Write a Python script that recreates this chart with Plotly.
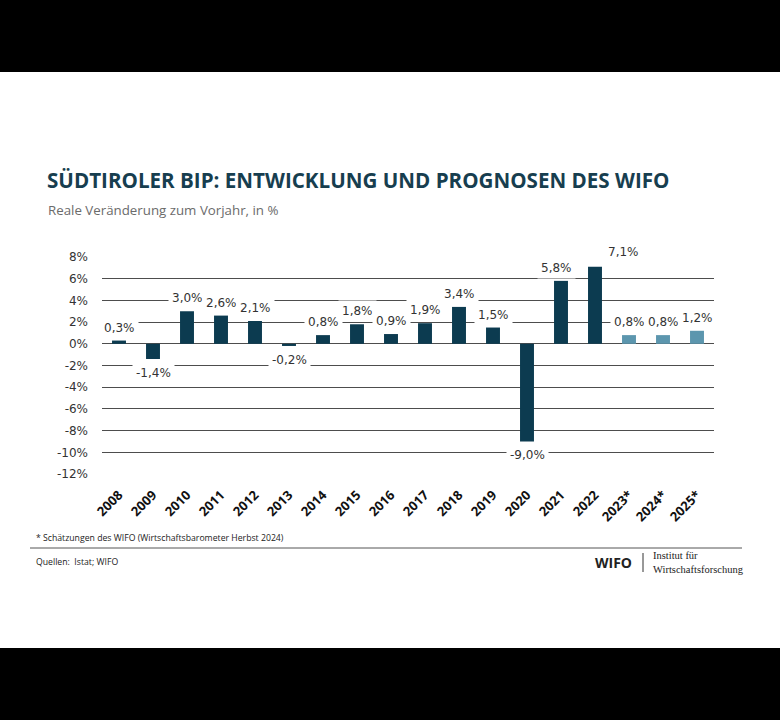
import plotly.graph_objects as go

years = ["2008", "2009", "2010", "2011", "2012", "2013", "2014", "2015", "2016",
         "2017", "2018", "2019", "2020", "2021", "2022", "2023*", "2024*", "2025*"]
growth = [0.3, -1.4, 3.0, 2.6, 2.1, -0.2, 0.8, 1.8, 0.9,
          1.9, 3.4, 1.5, -9.0, 5.8, 7.1, 0.8, 0.8, 1.2]
is_forecast = [False] * 15 + [True] * 3
y_ticks = [8, 6, 4, 2, 0, -2, -4, -6, -8, -10, -12]

DARK = "#0c3b50"
LIGHT = "#5c96ae"

W, H = 780, 720
L, R, T, B = 102, 714, 257, 474
PW, PH = R - L, B - T


def px_x(x):
    return (x - L) / PW


def px_y(y):
    return (B - y) / PH


fig = go.Figure()
fig.add_trace(go.Bar(
    x=years, y=growth,
    marker=dict(color=[LIGHT if f else DARK for f in is_forecast], line=dict(width=0)),
    hoverinfo="skip",
))

# value labels with white background
for i, (yr, v) in enumerate(zip(years, growth)):
    txt = f"{v:.1f}%".replace(".", ",")
    xshift = 0
    yshift = 13 if v >= 0 else -14
    if yr == "2022":
        xshift = 28
        yshift = 15
    if yr == "2021":
        xshift = -5
    fig.add_annotation(
        x=i, y=v, text=txt, showarrow=False, xshift=xshift, yshift=yshift,
        font=dict(family="DejaVu Sans", size=12, color="#333333"),
        bgcolor="white", borderpad=3,
    )

fig.update_layout(
    width=W, height=H,
    margin=dict(l=L, r=W - R, t=T, b=H - B, pad=0),
    paper_bgcolor="white", plot_bgcolor="white",
    showlegend=False, bargap=0.59,
    xaxis=dict(
        type="category", categoryorder="array", categoryarray=years,
        range=[-0.5, len(years) - 0.5], autorange=False,
        tickangle=-45, showgrid=False, showline=False, ticks="",
        ticklabelstandoff=10,
        tickfont=dict(family="Open Sans", size=13, color="#111111", weight="bold"),
    ),
    yaxis=dict(
        range=[-12, 8], autorange=False, tickvals=y_ticks,
        ticktext=[f"{t}%" for t in y_ticks],
        showgrid=True, gridcolor="#4d4d4d", gridwidth=1,
        zeroline=True, zerolinecolor="#4d4d4d", zerolinewidth=1,
        showline=False, ticks="", ticklabelstandoff=13,
        tickfont=dict(family="DejaVu Sans", size=12, color="#333333"),
    ),
)

# Title and subtitle
fig.add_annotation(
    xref="paper", yref="paper", x=px_x(45), y=px_y(180), xanchor="left", yanchor="middle",
    text="SÜDTIROLER BIP: ENTWICKLUNG UND PROGNOSEN DES WIFO", showarrow=False,
    font=dict(family="Open Sans", size=20.6, color="#173e4f", weight="bold"),
)
fig.add_annotation(
    xref="paper", yref="paper", x=px_x(46), y=px_y(210), xanchor="left", yanchor="middle",
    text="Reale Veränderung zum Vorjahr, in %", showarrow=False,
    font=dict(family="Open Sans", size=13.3, color="#6b6b6b"),
)

# Footer
fig.add_annotation(
    xref="paper", yref="paper", x=px_x(34), y=px_y(538), xanchor="left", yanchor="middle",
    text="* Schätzungen des WIFO (Wirtschaftsbarometer Herbst 2024)", showarrow=False,
    font=dict(family="Open Sans", size=8.7, color="#222222"),
)
fig.add_shape(type="line", xref="paper", yref="paper",
              x0=px_x(30), x1=px_x(742), y0=px_y(548), y1=px_y(548),
              line=dict(color="#555555", width=1))
fig.add_annotation(
    xref="paper", yref="paper", x=px_x(34), y=px_y(562), xanchor="left", yanchor="middle",
    text="Quellen:  Istat; WIFO", showarrow=False,
    font=dict(family="Open Sans", size=8.7, color="#222222"),
)
fig.add_annotation(
    xref="paper", yref="paper", x=px_x(634), y=px_y(562), xanchor="right", yanchor="middle",
    text="<b>WIFO</b>", showarrow=False,
    font=dict(family="Open Sans", size=14, color="#222222"),
)
fig.add_shape(type="line", xref="paper", yref="paper",
              x0=px_x(643), x1=px_x(643), y0=px_y(553), y1=px_y(572),
              line=dict(color="#333333", width=1))
fig.add_annotation(
    xref="paper", yref="paper", x=px_x(651), y=px_y(562), xanchor="left", yanchor="middle",
    text="Institut für<br>Wirtschaftsforschung", showarrow=False, align="left",
    font=dict(family="Liberation Serif", size=10.5, color="#222222"),
)

# black bands at top and bottom
fig.add_shape(type="rect", xref="paper", yref="paper", layer="above",
              x0=px_x(-5), x1=px_x(W + 5), y0=px_y(72), y1=px_y(-5),
              fillcolor="black", line=dict(width=0))
fig.add_shape(type="rect", xref="paper", yref="paper", layer="above",
              x0=px_x(-5), x1=px_x(W + 5), y0=px_y(725), y1=px_y(648),
              fillcolor="black", line=dict(width=0))

fig.write_html("out.html", config={"displayModeBar": False},
               post_script="document.body.style.margin='0';")
